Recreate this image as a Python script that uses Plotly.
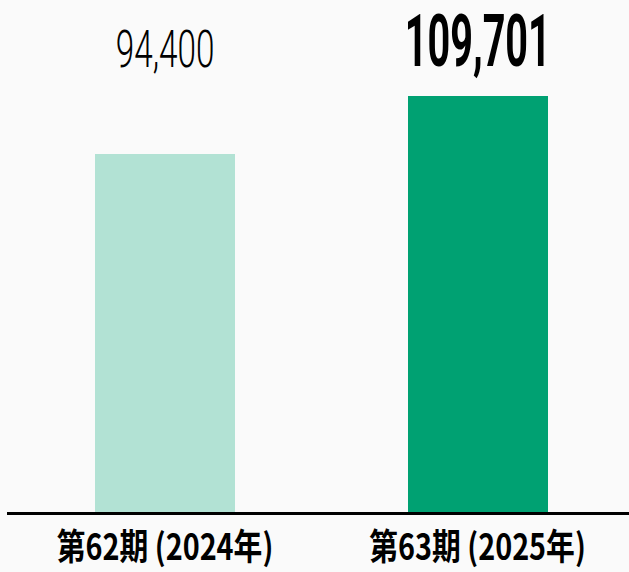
import plotly.graph_objects as go

# Fiscal periods and their values
categories = ["第62期 (2024年)", "第63期 (2025年)"]
values = [94400, 109701]
bar_colors = ["#b2e2d4", "#00a172"]

num_font = "Roboto, Liberation Sans, sans-serif"
cjk_font = "Noto Sans CJK JP, sans-serif"

fig = go.Figure(
    go.Bar(
        x=categories,
        y=values,
        marker=dict(color=bar_colors, line=dict(width=0)),
        width=0.448,
        hoverinfo="skip",
    )
)

# Value labels above the bars: previous period light, current period bold
label_styles = [
    dict(size=52, weight=300, y=0.903),
    dict(size=72, weight=700, y=0.918),
]
for cat, val, st in zip(categories, values, label_styles):
    fig.add_annotation(
        x=cat, y=st["y"], xref="x", yref="paper",
        text=f"{val:,}", showarrow=False,
        xanchor="center", yanchor="middle",
        font=dict(family=num_font, size=st["size"], color="#000000", weight=st["weight"]),
    )

fig.update_layout(
    width=629, height=572,
    margin=dict(l=7, r=0, t=0, b=60),
    paper_bgcolor="#fafafa",
    plot_bgcolor="#fafafa",
    showlegend=False,
    bargap=0,
)
fig.update_xaxes(
    type="category",
    range=[-0.5056, 1.4848],
    automargin=False,
    showline=True, linecolor="#000000", linewidth=3,
    showgrid=False, zeroline=False, ticks="",
    tickfont=dict(family=cjk_font, size=36, color="#000000", weight=700),
    ticklabelstandoff=2,
)
fig.update_yaxes(
    range=[0, 135016],
    automargin=False,
    visible=False, showgrid=False, zeroline=False,
)

# Condensed lettering: narrow the text horizontally around its own centre
condense_js = """
var gd = document.getElementById('{plot_id}');
function squeeze(el, s) {
  var b = el.getBBox();
  var cx = b.x + b.width / 2;
  var prev = el.getAttribute('transform') || '';
  el.setAttribute('transform', prev + ' translate(' + cx + ',0) scale(' + s + ',1) translate(' + (-cx) + ',0)');
}
var annScale = [0.64, 0.55];
gd.querySelectorAll('g.annotation').forEach(function (g) {
  var i = parseInt(g.getAttribute('data-index'), 10);
  var t = g.querySelector('text.annotation-text');
  if (t) squeeze(t, annScale[i] || 0.6);
});
gd.querySelectorAll('g.xtick text').forEach(function (t) { squeeze(t, 0.8); });
"""

fig.write_html("out.html", post_script=condense_js)
